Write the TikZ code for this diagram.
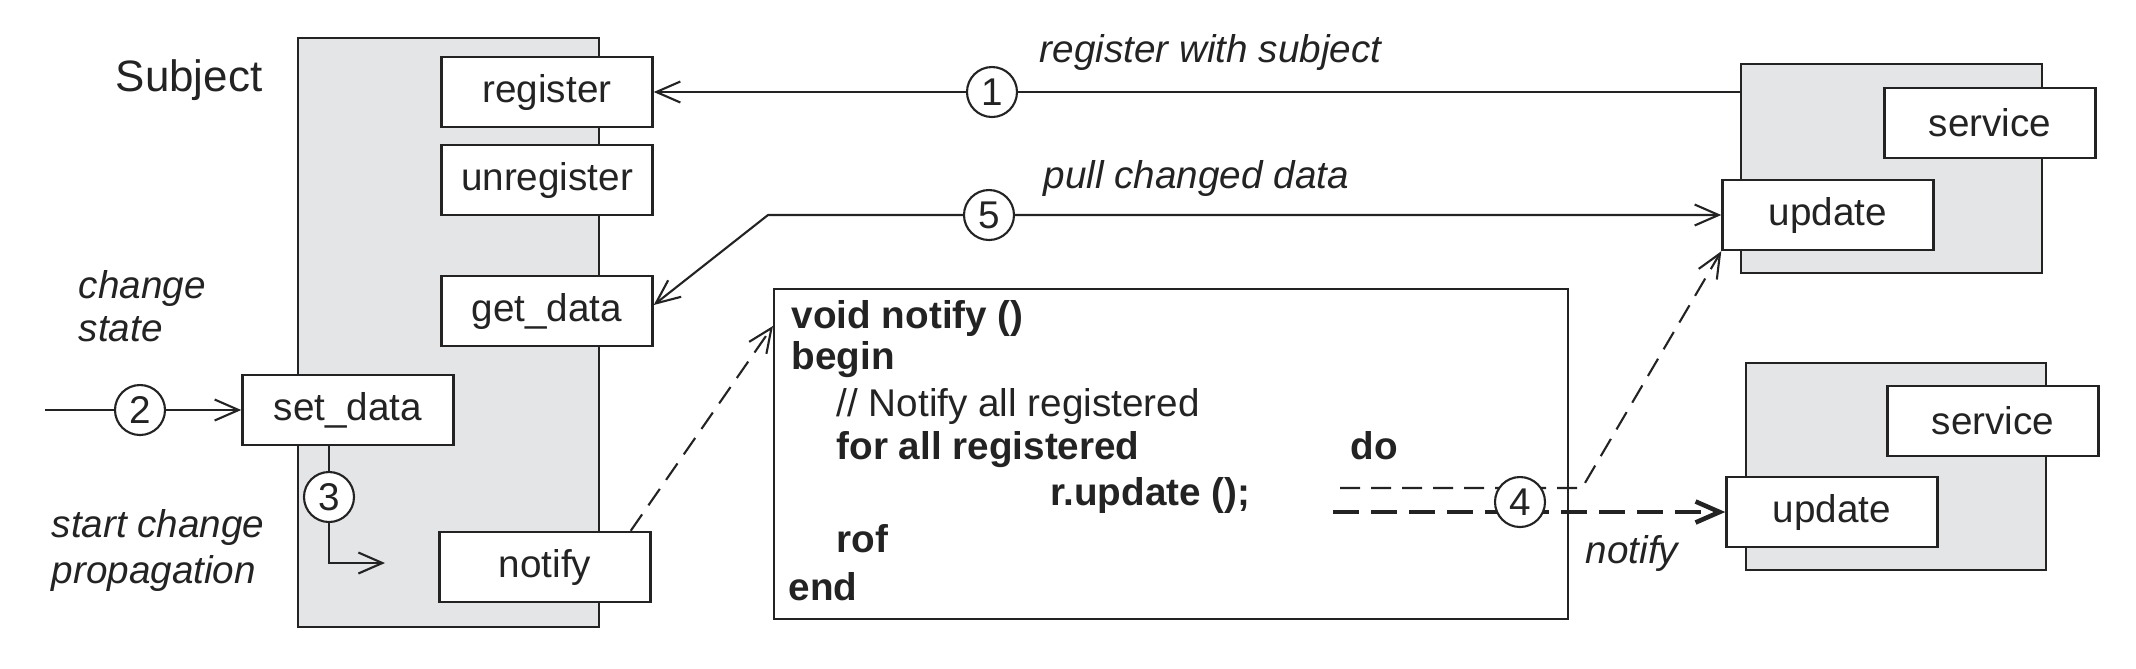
\documentclass[tikz,border=0pt]{standalone}
\usepackage{fontspec}
\setmainfont{Liberation Sans}
\usetikzlibrary{arrows.meta,calc}

\definecolor{panelgray}{RGB}{228,229,231}
\definecolor{ink}{RGB}{35,35,35}

\tikzset{
  panel/.style={draw=ink, fill=panelgray, line width=0.7pt, inner sep=0pt},
  method/.style={draw=ink, fill=white, line width=0.7pt, minimum width=21.1mm,
    minimum height=7mm, inner sep=0pt, font=\fontsize{11}{13}\selectfont},
  stepnum/.style={circle, draw=ink, fill=white, line width=0.6pt, minimum size=5mm,
    inner sep=0pt, font=\fontsize{11}{13}\selectfont},
  note/.style={anchor=base west, inner sep=0pt, font=\fontsize{11}{13}\selectfont\itshape},
  codeln/.style={anchor=base west, inner sep=0pt, font=\fontsize{11}{13}\selectfont\bfseries},
  link/.style={draw=ink, line width=0.6pt, -{Straight Barb[length=2.4mm,width=2.1mm]}},
  twolink/.style={link, {Straight Barb[length=2.4mm,width=2.1mm]}-{Straight Barb[length=2.4mm,width=2.1mm]}},
}

\begin{document}
\begin{tikzpicture}[x=0.1mm,y=-0.1mm,text=ink]
\useasboundingbox (0,0) rectangle (2136,668);

% Subject
\node[panel, minimum width=30.1mm, minimum height=58.9mm] (subj) at (448.5,332.5) {};
\node[anchor=east, inner sep=0pt, font=\fontsize{12.5}{14}\selectfont] (subjlbl) at (263,80) {Subject};
\node[method] (reg) at (547,92) {register};
\node[method] (unreg) at (547,180) {unregister};
\node[method] (gd) at (547,311) {get\_data};
\node[method] (sd) at (348,410) {set\_data};
\node[method] (nt) at (545,567) {notify};

% Observers
\node[panel, minimum width=30.1mm, minimum height=20.9mm] (obsA) at (1891.5,168.5) {};
\node[method] (svA) at (1990,123) {service};
\node[method] (upA) at (1828,215) {update};
\node[panel, minimum width=30mm, minimum height=20.7mm] (obsB) at (1896,466.5) {};
\node[method] (svB) at (1993,421) {service};
\node[method] (upB) at (1832,512) {update};

% notify code
\node[draw=ink, line width=0.6pt, minimum width=79.4mm, minimum height=33mm, inner sep=0pt] (code) at (1171,454) {};
\node[codeln] (cl1) at (791,328) {void notify ()};
\node[codeln] (cl2) at (791,369) {begin};
\node[codeln, font=\fontsize{11}{13}\selectfont] (cl3) at (836,416) {// Notify all registered};
\node[codeln] (cl4) at (836,459) {for all registered};
\node[codeln] (cl5) at (1350,459) {do};
\node[codeln] (cl6) at (1050,505) {r.update ();};
\node[codeln] (cl7) at (836,552) {rof};
\node[codeln] (cl8) at (788,600) {end};

% labels
\node[note] (chg) at (78,298) {change};
\node[note] (chg2) at (78,341) {state};
\node[note] (prop) at (51,537) {start change};
\node[note] (prop2) at (51,583) {propagation};
\node[note] (regl) at (1039,62) {register with subject};
\node[note] (pulll) at (1043,188) {pull changed data};
\node[note] (notl) at (1585,563) {notify};

% 1: register
\node[stepnum] (n1) at (992,92) {1};
\draw[link] (reg.east -| obsA.west) -- (n1) -- (reg.east);

% 2: change state
\coordinate (in2) at (45,410);
\node[stepnum] (n2) at (140,410) {2};
\draw[link] (in2) -- (n2) -- (sd.west);

% 3: start propagation
\coordinate (c3) at (329,563);
\coordinate (e3) at (385,563);
\node[stepnum] (n3) at (329,497) {3};
\draw[link] (n3 |- sd.south) -- (n3) -- (c3) -- (e3);

% notify -> code
\draw[link, dash pattern=on 2mm off 1.1mm] ($(nt.north east)+(-21,0)$) -- ($(code.north west)+(0,38)$);

% 4: notify observers
\coordinate (d1) at (1340,488);
\coordinate (d1b) at (1582,488);
\coordinate (d2) at (1333,512);
\draw[link, dash pattern=on 2mm off 1.1mm] (d1) -- (d1b) -- (upA.south west);
\draw[link, line width=1.3pt, dash pattern=on 2.6mm off 1.2mm] (d2) -- (upB.west);
\node[stepnum] (n4) at (1520,502) {4};

% 5: pull data
\coordinate (b5) at (768,215);
\draw[twolink] ($(gd.east)+(0,-6)$) -- (b5) -- (upA.west);
\node[stepnum] (n5) at (989,215) {5};

\end{tikzpicture}
\end{document}
